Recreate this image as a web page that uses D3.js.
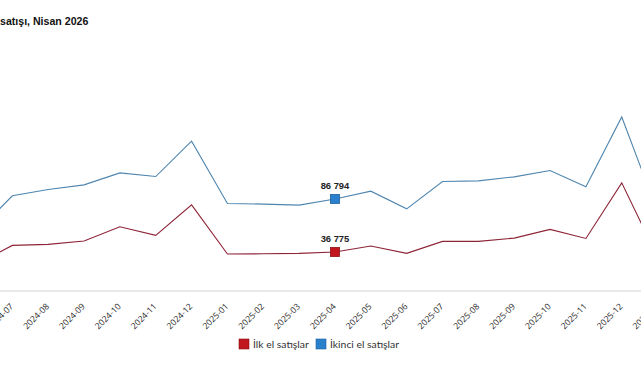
<!DOCTYPE html>
<html lang="tr">
<head>
<meta charset="utf-8">
<script src="https://cdn.jsdelivr.net/npm/d3@7"></script>
<style>
    body { margin: 0; background: #fff; }
    svg { display: block; }
    .tick-label { font-family: 'Open Sans', sans-serif; font-size: 8.6px; fill: #2a2a2a; }
    .legend-label { font-family: Lato, 'Noto Sans', sans-serif; font-size: 10.4px; fill: #333; }
</style>
</head>
<body>
<svg id="chart" width="641" height="380"></svg>
<script>
const MONTHS = [
    '2024-06', '2024-07', '2024-08', '2024-09', '2024-10', '2024-11', '2024-12',
    '2025-01', '2025-02', '2025-03', '2025-04', '2025-05', '2025-06', '2025-07',
    '2025-08', '2025-09', '2025-10', '2025-11', '2025-12', '2026-01',
];
const FIRST_HAND = [
    25500, 43000, 44000, 47100, 60600, 52500, 81300,
    34900, 35100, 35500, 36775, 42400, 35500, 46800,
    46800, 49900, 58100, 49600, 102000, 32100,
];
const SECOND_HAND = [
    55300, 89800, 95800, 100100, 111400, 108000, 141300,
    82600, 82000, 81000, 86794, 94200, 77500, 103300,
    103900, 107700, 113700, 98300, 164200, 74400,
];
const SERIES = [
    { name: 'İlk el satışlar', values: FIRST_HAND, line: '#8e2437', fill: '#c1161d', stroke: '#8a1014' },
    { name: 'İkinci el satışlar', values: SECOND_HAND, line: '#4f86b0', fill: '#2a80cc', stroke: '#1b5f9c' },
];
const HIGHLIGHT = '2025-04';
const TITLE = 'Konut satışı, Nisan 2026';

const w = 641;
const h = 380;
const svg = d3.select('#chart');

const x = d3.scalePoint()
    .domain(MONTHS)
    .range([-23.5, 657.6]);

const y = d3.scaleLinear()
    .domain([0, 200000])
    .range([291, 79]);

const fmt = v => d3.format(',')(v).replace(/,/g, ' ');

const titleFont = sel => sel
    .style('font-family', "'Liberation Sans', Arial, sans-serif")
    .style('font-size', '10.6px')
    .style('font-weight', 700);

const title = svg.append('text')
    .text(TITLE)
    .attr('y', 25)
    .style('fill', '#111')
    .call(titleFont);
const prefix = svg.append('text')
    .text('Konut ')
    .style('white-space', 'pre')
    .call(titleFont);
const shift = prefix.node().getComputedTextLength();
prefix.remove();
title.attr('x', -shift);

svg.append('line')
    .attr('x1', 0)
    .attr('x2', w)
    .attr('y1', y(0))
    .attr('y2', y(0))
    .attr('stroke', '#d4d4d4')
    .attr('stroke-width', 1);

const xAxis = svg.append('g')
    .attr('transform', `translate(0, ${y(0)})`)
    .call(d3.axisBottom(x).tickSize(0).tickPadding(0));
xAxis.select('.domain').remove();
xAxis.selectAll('text')
    .attr('class', 'tick-label')
    .attr('text-anchor', 'end')
    .attr('dy', 0)
    .attr('transform', 'translate(1, 16) rotate(-45)');

const line = d3.line()
    .x((d, i) => x(MONTHS[i]))
    .y(d => y(d));

SERIES.forEach(s => {
    svg.append('path')
        .datum(s.values)
        .attr('d', line)
        .attr('fill', 'none')
        .attr('stroke', s.line)
        .attr('stroke-width', 1.1);

    const v = s.values[MONTHS.indexOf(HIGHLIGHT)];
    svg.append('rect')
        .attr('x', x(HIGHLIGHT) - 4.5)
        .attr('y', y(v) - 4.5)
        .attr('width', 9)
        .attr('height', 9)
        .attr('fill', s.fill)
        .attr('stroke', s.stroke)
        .attr('stroke-width', 0.8);
    svg.append('text')
        .text(fmt(v))
        .attr('x', x(HIGHLIGHT))
        .attr('y', y(v) - 10)
        .attr('text-anchor', 'middle')
        .style('font-family', "'Liberation Sans', Arial, sans-serif")
        .style('font-size', '9.4px')
        .style('font-weight', 700)
        .style('fill', '#222');
});

const legend = svg.append('g')
    .selectAll('g')
    .data(SERIES)
    .enter()
    .append('g')
    .attr('transform', (d, i) => `translate(${i === 0 ? 239 : 316}, 339)`);
legend.append('rect')
    .attr('width', 10)
    .attr('height', 10)
    .attr('fill', d => d.fill)
    .attr('stroke', d => d.stroke)
    .attr('stroke-width', 0.6);
legend.append('text')
    .text(d => d.name)
    .attr('class', 'legend-label')
    .attr('x', 14)
    .attr('y', 8.6);
</script>
</body>
</html>
